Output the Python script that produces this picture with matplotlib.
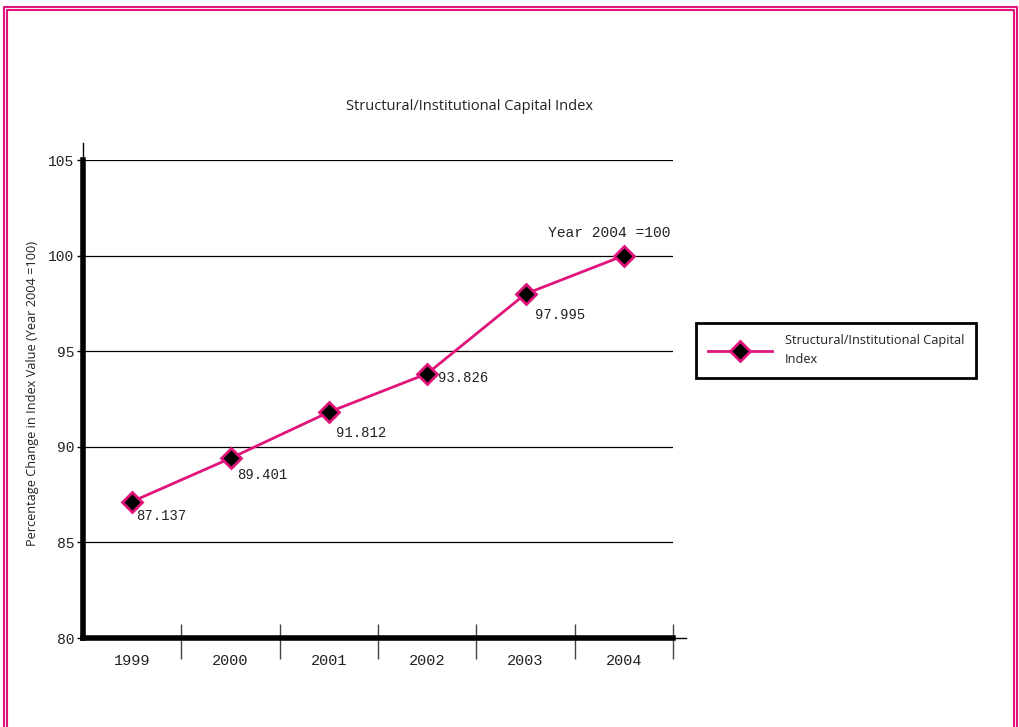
import matplotlib.pyplot as plt
from matplotlib.lines import Line2D

# -----------------------------
# DATA
# -----------------------------
years = ["1999", "2000", "2001", "2002", "2003", "2004"]
index_values = [87.137, 89.401, 91.812, 93.826, 97.995, 100.0]
value_labels = ["87.137", "89.401", "91.812", "93.826", "97.995"]
y_ticks = [80, 85, 90, 95, 100, 105]

PINK = "#E0147A"
MONO = "Liberation Mono"
SANS = "Open Sans"
TXT = "#222222"

# label offsets in pixels (dx, dy) relative to marker
label_offsets = [(4, -14), (7, -17), (7, -21), (11, -4), (10, -21)]

fig = plt.figure(figsize=(10.2, 7.27), dpi=100)
W, H = 1020, 727
ax = fig.add_axes([83 / W, 1 - 638 / H, (673 - 83) / W, (638 - 160) / H])

x = list(range(len(years)))
ax.plot(x, index_values, color=PINK, lw=2, marker="D", markersize=10,
        markerfacecolor="black", markeredgecolor=PINK, markeredgewidth=2,
        zorder=5, label="Structural/Institutional Capital\nIndex")

for i, lab in enumerate(value_labels):
    dx, dy = label_offsets[i]
    ax.annotate(lab, (x[i], index_values[i]), xytext=(dx * 0.72, dy * 0.72),
                textcoords="offset points", ha="left", va="center",
                fontsize=10, family=MONO, color=TXT)
ax.annotate("Year 2004 =100", (x[-1], index_values[-1]),
            xytext=(-15 * 0.72, 23 * 0.72), textcoords="offset points",
            ha="center", va="center", fontsize=10.5, family=MONO, color=TXT)

ax.set_xlim(-0.5, 5.5)
ax.set_ylim(80, 105)
ax.set_yticks(y_ticks)
ax.set_yticklabels([str(v) for v in y_ticks], family=MONO, fontsize=10.5,
                   color=TXT)
for v in y_ticks[1:]:
    ax.axhline(v, color="black", lw=0.9, zorder=1)

bounds = [i + 0.5 for i in range(len(years))]
ax.set_xticks(bounds)
ax.set_xticks(bounds, minor=True)
ax.xaxis.remove_overlapping_locs = False
ax.set_xticklabels([])
ax.tick_params(axis="x", which="major", direction="out", length=15,
               width=1, color="#444444")
ax.tick_params(axis="x", which="minor", direction="in", length=10,
               width=1, color="#444444")
ax.tick_params(axis="y", direction="out", length=4, width=1, pad=2)
for i, yr in enumerate(years):
    ax.text(i, -0.048, yr, transform=ax.get_xaxis_transform(), ha="center",
            va="center", family=MONO, fontsize=11, color=TXT)

for s in ["top", "right"]:
    ax.spines[s].set_visible(False)
ax.spines["left"].set_linewidth(4)
ax.spines["bottom"].set_linewidth(4)

# thin axis extensions
fig.add_artist(Line2D([83 / W, 83 / W], [1 - 160 / H, 1 - 143 / H],
                      color="black", lw=1))
fig.add_artist(Line2D([673 / W, 686 / W], [1 - 638 / H, 1 - 638 / H],
                      color="black", lw=1))

fig.text(470 / W, 1 - 107 / H, "Structural/Institutional Capital Index",
         ha="center", va="center", family=SANS, fontsize=10.5, color=TXT)
fig.text(33 / W, 1 - 393 / H,
         "Percentage Change in Index Value (Year 2004 =100)",
         rotation=90, ha="center", va="center", family=SANS, fontsize=9.2,
         color=TXT)

leg = fig.legend(loc="center", bbox_to_anchor=(836 / W, 1 - 350 / H),
                 frameon=True, fancybox=False, handlelength=5.0,
                 prop={"family": SANS, "size": 9.2}, borderpad=0.9,
                 handletextpad=1.0, edgecolor="black", framealpha=1)
leg.get_frame().set_linewidth(2)
for t in leg.get_texts():
    t.set_color(TXT)
    t.set_linespacing(1.6)

# pink double border
for off in (0, 3):
    fig.add_artist(Line2D([(4 + off) / W, (4 + off) / W, (1017 - off) / W,
                           (1017 - off) / W],
                          [0, 1 - (7 + off) / H, 1 - (7 + off) / H, 0],
                          color=PINK, lw=1.5))

fig.savefig("out.png", dpi=100)
